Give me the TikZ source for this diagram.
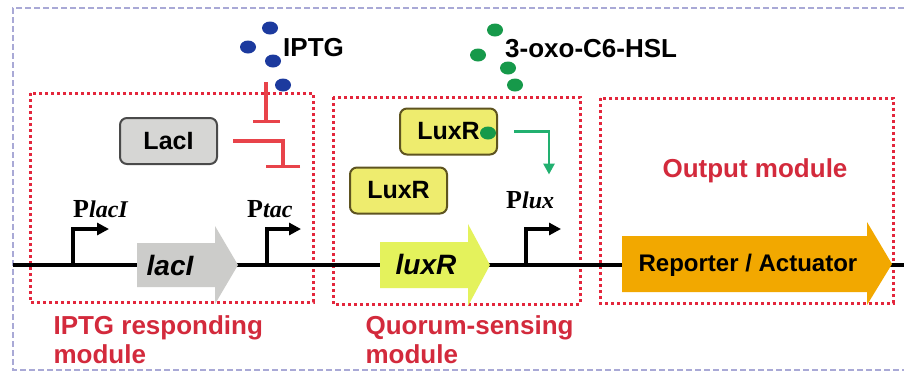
\documentclass[tikz,border=0pt]{standalone}
\usepackage{fontspec}
\setmainfont{Liberation Sans}
\newfontfamily\promfont{Liberation Serif}
\usetikzlibrary{arrows.meta,shapes.geometric}
\definecolor{frame}{HTML}{A9A9D6}
\definecolor{modred}{HTML}{E3263C}
\definecolor{labred}{HTML}{D32A3C}
\definecolor{inhred}{HTML}{E8434A}
\definecolor{protgray}{HTML}{D6D6D4}
\definecolor{protedge}{HTML}{4A4A4A}
\definecolor{luxfill}{HTML}{EEEC6E}
\definecolor{luxedge}{HTML}{5E5420}
\definecolor{geneyel}{HTML}{E4F25C}
\definecolor{genegray}{HTML}{CCCCCA}
\definecolor{repor}{HTML}{F2A800}
\definecolor{iptgblue}{HTML}{1C3A9E}
\definecolor{ahlgreen}{HTML}{16994A}
\definecolor{sigreen}{HTML}{22B070}

\begin{document}
\begin{tikzpicture}[x=1pt,y=-1pt,
  module/.style={draw=modred,line width=3pt,dash pattern=on 3pt off 3pt},
  modlbl/.style={font=\bfseries\fontsize{26}{29}\selectfont,text=labred,align=left,anchor=base west},
  prot/.style={draw,line width=2pt,rounded corners=7pt,minimum width=97,minimum height=46,inner sep=0,font=\bfseries\fontsize{25}{25}\selectfont},
  gene/.style={font=\bfseries\itshape\fontsize{28}{28}\selectfont},
  prom/.style={line width=3.6pt,-{Triangle[length=12pt,width=12pt]}},
  plbl/.style={anchor=base west,inner sep=0,font=\promfont\bfseries\fontsize{26}{26}\selectfont},
  inh/.style={inhred,line width=3.4pt},
  bdot/.style={ellipse,fill=iptgblue,minimum width=16,minimum height=13,inner sep=0},
  gdot/.style={ellipse,fill=ahlgreen,minimum width=16,minimum height=13,inner sep=0},
  mol/.style={anchor=base west,inner sep=0,font=\bfseries\fontsize{26}{26}\selectfont}]
  \useasboundingbox (0,0) rectangle (904,373);
  \fill[white] (0,0) rectangle (904,373);
  \draw[frame,line width=1.5pt,dash pattern=on 6pt off 3pt] (904,8) -- (13,8) -- (13,370) -- (904,370);

  % ===== modules =====
  \draw[module] (30,93) rectangle (313,302);
  \draw[module] (333,97) rectangle (580,304);
  \draw[module] (600,98) rectangle (893,303);
  \node[modlbl] (iptglbl) at (50,363) {IPTG responding\\module};
  \node[modlbl] (qslbl) at (362,363) {Quorum-sensing\\module};
  \node[modlbl,anchor=base] (outlbl) at (755,177) {Output module};

  % ===== DNA =====
  \coordinate (dnaL) at (13,265);
  \coordinate (dnaR) at (904,265);
  \draw[line width=3.6pt] (dnaL) -- (dnaR);
  \fill[genegray] (137,243) -- (215,243) -- (215,226) -- (238,265) -- (215,304) -- (215,287) -- (137,287) -- cycle;
  \node[gene] (lacI) at (170,265) {lacI};
  \fill[geneyel] (380,242) -- (468,242) -- (468,224) -- (490,265) -- (468,306) -- (468,288) -- (380,288) -- cycle;
  \node[gene] (luxR) at (426,264) {luxR};
  \fill[repor] (622,236) -- (867,236) -- (867,222) -- (892,264) -- (867,305) -- (867,292) -- (622,292) -- cycle;
  \node[font=\bfseries\fontsize{24}{24}\selectfont] (rep) at (748,265) {Reporter / Actuator};

  % ===== promoters =====
  \draw[prom] (73,265) |- ++(36,-36);
  \draw[prom] (267,265) |- ++(34,-36);
  \draw[prom] (526,265) |- ++(35,-36);
  \node[plbl] (placI) at (73,217) {P{\fontsize{24}{24}\selectfont\itshape lacI}};
  \node[plbl] (ptac) at (247,217) {P{\fontsize{24}{24}\selectfont\itshape tac}};
  \node[plbl] (plux) at (506,208) {P{\fontsize{24}{24}\selectfont\itshape lux}};

  % ===== proteins =====
  \node[prot,draw=protedge,fill=protgray] (laci) at (168.5,141) {LacI};
  \node[prot,draw=luxedge,fill=luxfill] (luxc) at (448.5,131.5) {LuxR};
  \node[prot,draw=luxedge,fill=luxfill] (luxr) at (398.5,190.5) {LuxR};
  \node[gdot] (ahlb) at (488,133) {};

  % ===== inducers =====
  \node[bdot] (i1) at (270,28) {};
  \node[bdot] (i2) at (248,47) {};
  \node[bdot] (i3) at (273,61) {};
  \node[bdot] (i4) at (283,85) {};
  \node[mol] (iptg) at (283,56) {IPTG};
  \node[gdot] (a1) at (495,30) {};
  \node[gdot] (a2) at (478,55) {};
  \node[gdot] (a3) at (508,68) {};
  \node[gdot] (a4) at (515,85) {};
  \node[mol] (ahl) at (505,57) {3-oxo-C6-HSL};

  % ===== regulation =====
  \draw[inh,-{Bar[width=27pt]}] (i4.center) ++(-17,-3) -- ++(0,41);
  \draw[inh,-{Bar[width=34pt]}] ([xshift=15pt]laci.east) -| ++(50,27);
  \draw[sigreen,line width=2.8pt,-{Triangle[length=11pt,width=11pt]}] ([xshift=16pt]luxc.east) -| ++(35,43);
\end{tikzpicture}
\end{document}
